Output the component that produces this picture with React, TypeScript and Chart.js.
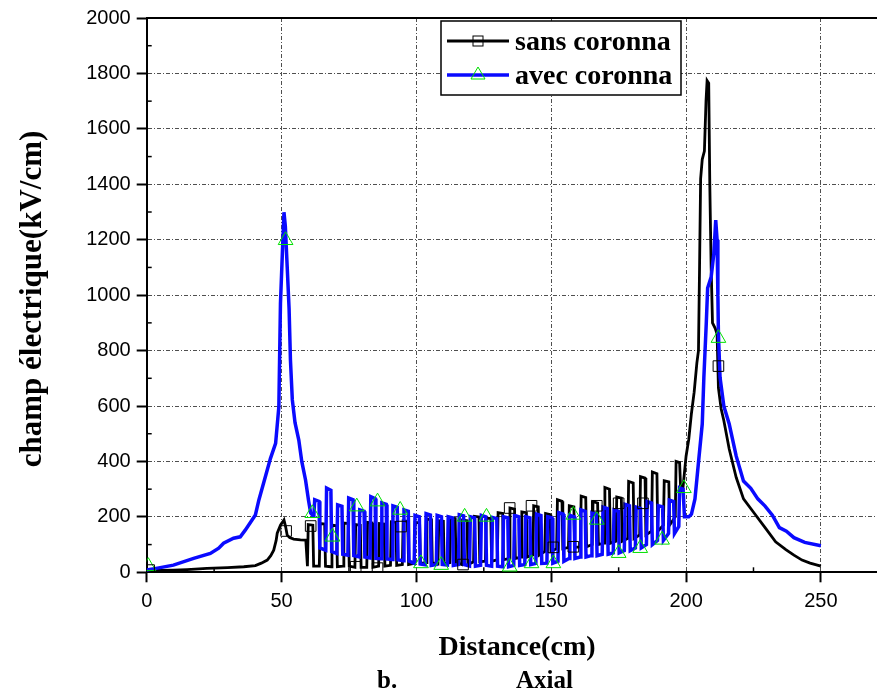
import React, { useEffect, useRef } from 'react';
import { Chart, registerables } from 'chart.js';

Chart.register(...registerables);

// ---------- data ----------
const xTicks = [0, 50, 100, 150, 200, 250];
const xMinorTicks = [25, 75, 125, 175, 225];
const yMinorTicks = [100, 300, 500, 700, 900, 1100, 1300, 1500, 1700, 1900];

const seriesLabels = ['sans coronna', 'avec coronna'];

// champ électrique, sans coronna (black)
const sansCoronna: [number, number][] = [
  [0, 6], [5, 7], [10, 8], [15, 10], [22.3, 14], [30, 17], [36, 20], [40.3, 24], [42.5, 33], [44.7, 44],
  [46, 60], [47.1, 80], [48, 115], [48.4, 141], [49.6, 170], [50.3, 180], [50.9, 189], [51.5, 165], [52.1, 134],
  [53, 125], [54.5, 120], [57, 117], [59, 116],
  [59.6, 22], [59.9, 172], [61.6, 170], [61.9, 22],
  [64.0, 22], [64.3, 176], [66.0, 174], [66.3, 22],
  [68.4, 20], [68.7, 170], [70.4, 168], [70.7, 20],
  [72.8, 22], [73.1, 178], [74.8, 176], [75.1, 22],
  [77.2, 18], [77.5, 172], [79.2, 170], [79.5, 18],
  [81.6, 18], [81.9, 180], [83.6, 178], [83.9, 18],
  [86.0, 22], [86.3, 176], [88.0, 174], [88.3, 22],
  [90.4, 25], [90.7, 182], [92.4, 180], [92.7, 25],
  [94.8, 28], [95.1, 186], [96.8, 184], [97.1, 28],
  [99.2, 32], [99.5, 180], [101.2, 178], [101.5, 32],
  [103.6, 35], [103.9, 192], [105.6, 190], [105.9, 35],
  [108.0, 30], [108.3, 186], [110.0, 184], [110.3, 30],
  [112.4, 35], [112.7, 196], [114.4, 194], [114.7, 35],
  [116.8, 28], [117.1, 188], [118.8, 186], [119.1, 28],
  [121.2, 38], [121.5, 202], [123.2, 200], [123.5, 38],
  [125.6, 40], [125.9, 196], [127.6, 194], [127.9, 40],
  [130.0, 45], [130.3, 215], [132.0, 212], [132.3, 45],
  [134.4, 50], [134.7, 232], [136.4, 228], [136.7, 50],
  [138.8, 55], [139.1, 218], [140.8, 215], [141.1, 55],
  [143.2, 62], [143.5, 240], [145.2, 236], [145.5, 62],
  [147.6, 75], [147.9, 212], [149.6, 208], [149.9, 75],
  [152.0, 85], [152.3, 262], [154.0, 256], [154.3, 85],
  [156.4, 90], [156.7, 240], [158.4, 236], [158.7, 90],
  [160.8, 92], [161.1, 275], [162.8, 270], [163.1, 92],
  [165.2, 100], [165.5, 255], [167.2, 250], [167.5, 100],
  [169.6, 105], [169.9, 306], [171.6, 300], [171.9, 105],
  [174.0, 112], [174.3, 272], [176.0, 268], [176.3, 112],
  [178.4, 122], [178.7, 328], [180.4, 322], [180.7, 122],
  [182.8, 135], [183.1, 345], [184.8, 340], [185.1, 135],
  [187.2, 148], [187.5, 362], [189.2, 356], [189.5, 148],
  [191.6, 170], [191.9, 330], [193.6, 326], [193.9, 170],
  [196.0, 200], [196.3, 400], [197.6, 396], [198.0, 300], [198.7, 290],
  [200, 419], [201, 480], [202, 574], [203, 650], [204, 755], [204.6, 800], [205, 1100], [205.4, 1420],
  [206, 1490], [206.8, 1520], [207.4, 1700], [207.8, 1774], [208.4, 1765], [208.8, 1400], [209.3, 1100],
  [209.8, 900], [210.8, 880], [211.5, 860], [212, 665], [213, 590], [214, 548], [216, 445], [218.6, 342],
  [221.3, 265], [225.3, 213], [229.3, 161], [233.2, 110], [237, 82], [240, 62], [243, 44], [246, 33], [250, 22],
];

// champ électrique, avec coronna (blue)
const avecCoronna: [number, number][] = [
  [0, 8], [4, 15], [9.9, 26], [17.4, 50], [23.6, 68], [26.7, 87], [28.5, 105], [32.2, 123], [34.7, 128],
  [36.6, 153], [40.3, 207], [41.6, 261], [44, 345], [45.9, 411], [47.8, 465], [49, 597], [49.6, 971],
  [50.3, 1150], [50.9, 1299], [51.4, 1250], [52.1, 1102], [52.8, 950], [53.3, 766], [54, 622], [55, 540],
  [56.4, 477], [57.5, 400], [58.9, 333], [60, 260], [60.8, 214], [61.6, 205],
  [62.0, 205], [62.3, 262], [63.9, 256], [64.2, 88],
  [66.4, 80], [66.7, 304], [68.3, 296], [68.6, 75],
  [70.5, 68], [70.8, 243], [72.4, 238], [72.7, 65],
  [74.6, 62], [74.9, 268], [76.5, 262], [76.8, 60],
  [78.7, 56], [79.0, 225], [80.6, 220], [80.9, 55],
  [82.8, 52], [83.1, 273], [84.7, 266], [85.0, 50],
  [86.9, 49], [87.2, 250], [88.8, 245], [89.1, 48],
  [91.0, 46], [91.3, 240], [92.9, 235], [93.2, 45],
  [95.1, 42], [95.4, 225], [97.0, 220], [97.3, 40],
  [99.2, 32], [99.5, 205], [101.1, 200], [101.4, 30],
  [103.3, 27], [103.6, 212], [105.2, 207], [105.5, 25],
  [107.4, 28], [107.7, 205], [109.3, 200], [109.6, 28],
  [111.5, 26], [111.8, 200], [113.4, 196], [113.7, 25],
  [115.6, 28], [115.9, 208], [117.5, 204], [117.8, 28],
  [119.7, 23], [120.0, 200], [121.6, 196], [121.9, 22],
  [123.8, 25], [124.1, 205], [125.7, 200], [126.0, 25],
  [127.9, 22], [128.2, 198], [129.8, 194], [130.1, 22],
  [132.0, 20], [132.3, 200], [133.9, 196], [134.2, 20],
  [136.1, 25], [136.4, 205], [138.0, 200], [138.3, 25],
  [140.2, 28], [140.5, 200], [142.1, 196], [142.4, 28],
  [144.3, 32], [144.6, 210], [146.2, 205], [146.5, 32],
  [148.4, 33], [148.7, 200], [150.3, 196], [150.6, 33],
  [152.5, 40], [152.8, 215], [154.4, 210], [154.7, 40],
  [156.6, 50], [156.9, 205], [158.5, 200], [158.8, 50],
  [160.7, 55], [161.0, 225], [162.6, 220], [162.9, 55],
  [164.8, 60], [165.1, 215], [166.7, 210], [167.0, 60],
  [168.9, 65], [169.2, 235], [170.8, 230], [171.1, 65],
  [173.0, 70], [173.3, 225], [174.9, 220], [175.2, 70],
  [177.1, 78], [177.4, 245], [179.0, 240], [179.3, 78],
  [181.2, 88], [181.5, 235], [183.1, 230], [183.4, 88],
  [185.3, 100], [185.6, 255], [187.2, 250], [187.5, 100],
  [189.4, 115], [189.7, 240], [191.3, 236], [191.6, 115],
  [193.5, 140], [193.8, 260], [195.4, 255], [195.7, 140],
  [197.3, 165], [197.6, 305], [198.9, 300], [199.4, 200],
  [201, 200], [202, 210], [203.3, 265], [204.7, 406], [206, 535], [206.6, 703], [207.5, 900], [208, 1026],
  [209.3, 1065], [210.3, 1150], [211, 1271], [211.5, 1200], [211.8, 1000], [212, 858], [212.6, 703],
  [214, 600], [216, 535], [218.6, 419], [221.3, 329], [224, 303], [226.6, 265], [229.3, 239], [232, 206],
  [234.6, 161], [237.2, 148], [240, 125], [244, 108], [250, 96],
];

// symbols drawn on the curves
const sansMarkers: [number, number][] = [
  [0.9, 8], [51.7, 149], [60.8, 167], [77.5, 20], [85.6, 15], [94.3, 165], [117.3, 28], [134.6, 232],
  [142.7, 240], [150.8, 90], [158.2, 92], [166.9, 240], [175, 249], [184, 249], [212, 744],
];
const avecMarkers: [number, number][] = [
  [0.6, 22], [51.5, 1198], [61.4, 213], [68.9, 128], [77.9, 237], [85.6, 255], [94, 225], [101.7, 32],
  [109.2, 26], [117.9, 200], [126, 200], [134.6, 20], [142.7, 32], [150.8, 32], [158.2, 207], [166.9, 189],
  [175, 69], [183, 87], [191.1, 117], [199.2, 303], [212, 845],
];

const xTitle = 'Distance(cm)';
const yTitle = 'champ électrique(kV/cm)';
const captionLetter = 'b.';
const captionWord = 'Axial';

// ---------- styles ----------
const BLACK = '#000000';
const BLUE = '#0a0aff';
const GREEN = '#00e000';
const SERIF = '"Liberation Serif", "Times New Roman", serif';
const SANS = '"Liberation Sans", Arial, sans-serif';

const toXY = (arr: [number, number][]) => arr.map(([x, y]) => ({ x, y }));

const decorPlugin = {
  id: 'decor',
  afterDraw(chart: any) {
    const { ctx, chartArea: ca, scales } = chart;
    const xs = scales.x;
    const ys = scales.y;
    const line = (x1: number, y1: number, x2: number, y2: number) => {
      ctx.beginPath();
      ctx.moveTo(x1, y1);
      ctx.lineTo(x2, y2);
      ctx.stroke();
    };
    ctx.save();
    ctx.setLineDash([]);
    ctx.strokeStyle = '#000';
    // minor inward ticks
    ctx.lineWidth = 1.5;
    xMinorTicks.forEach((v) => {
      const px = xs.getPixelForValue(v);
      line(px, ca.bottom, px, ca.bottom - 5);
    });
    yMinorTicks.forEach((v) => {
      const py = ys.getPixelForValue(v);
      line(ca.left, py, ca.left + 5, py);
    });
    // top frame
    ctx.lineWidth = 2;
    line(ca.left, ca.top, chart.width, ca.top);

    // legend
    const lx = 441, ly = 21, lw = 240, lh = 74;
    ctx.fillStyle = '#fff';
    ctx.fillRect(lx, ly, lw, lh);
    ctx.lineWidth = 1.5;
    ctx.strokeRect(lx, ly, lw, lh);
    const rows = [
      { y: 41, color: BLACK, width: 2.8, label: seriesLabels[0], marker: 'rect' },
      { y: 75, color: BLUE, width: 3.5, label: seriesLabels[1], marker: 'tri' },
    ];
    rows.forEach((r) => {
      ctx.strokeStyle = r.color;
      ctx.lineWidth = r.width;
      line(447, r.y, 509, r.y);
      ctx.lineWidth = 1;
      if (r.marker === 'rect') {
        ctx.strokeStyle = '#000';
        ctx.strokeRect(473, r.y - 5, 10, 10);
      } else {
        ctx.strokeStyle = GREEN;
        ctx.beginPath();
        ctx.moveTo(478, r.y - 8);
        ctx.lineTo(485, r.y + 4);
        ctx.lineTo(471, r.y + 4);
        ctx.closePath();
        ctx.stroke();
      }
      ctx.fillStyle = '#000';
      ctx.font = `bold 28px ${SERIF}`;
      ctx.textAlign = 'left';
      ctx.textBaseline = 'alphabetic';
      ctx.fillText(r.label, 515, r.y + 9);
    });

    // axis titles and caption
    ctx.fillStyle = '#000';
    ctx.font = `bold 28px ${SERIF}`;
    ctx.textAlign = 'center';
    ctx.textBaseline = 'alphabetic';
    ctx.fillText(xTitle, 517, 655);
    ctx.save();
    ctx.font = `bold 31px ${SERIF}`;
    ctx.translate(41, 299);
    ctx.rotate(-Math.PI / 2);
    ctx.fillText(yTitle, 0, 0);
    ctx.restore();
    ctx.font = `bold 25px ${SERIF}`;
    ctx.textAlign = 'left';
    ctx.fillText(captionLetter, 377, 688);
    ctx.fillText(captionWord, 516, 688);
    ctx.restore();
  },
};

export default function App() {
  const ref = useRef<HTMLCanvasElement | null>(null);
  useEffect(() => {
    if (!ref.current) return;
    const chart = new Chart(ref.current, {
      type: 'line',
      data: {
        datasets: [
          {
            label: seriesLabels[0] + ' symbols',
            data: toXY(sansMarkers),
            showLine: false,
            pointStyle: 'rect',
            pointRadius: 7.5,
            pointBorderColor: '#000',
            pointBackgroundColor: 'rgba(0,0,0,0)',
            pointBorderWidth: 1,
            order: -2,
          } as any,
          {
            label: seriesLabels[1] + ' symbols',
            data: toXY(avecMarkers),
            showLine: false,
            pointStyle: 'triangle',
            pointRadius: 8.5,
            pointBorderColor: GREEN,
            pointBackgroundColor: 'rgba(0,0,0,0)',
            pointBorderWidth: 1,
            order: -1,
          } as any,
          {
            label: seriesLabels[0],
            data: toXY(sansCoronna),
            borderColor: BLACK,
            borderWidth: 2.8,
            pointRadius: 0,
            tension: 0,
            order: 2,
          },
          {
            label: seriesLabels[1],
            data: toXY(avecCoronna),
            borderColor: BLUE,
            borderWidth: 3.5,
            pointRadius: 0,
            tension: 0,
            order: 1,
          },
        ],
      },
      options: {
        responsive: false,
        animation: false,
        events: [],
        layout: { autoPadding: false, padding: { top: 17.5, right: 0, left: 0, bottom: 0 } },
        plugins: { legend: { display: false }, tooltip: { enabled: false } },
        scales: {
          x: {
            type: 'linear',
            min: 0,
            max: 270.8,
            afterBuildTicks: (scale: any) => {
              scale.ticks = xTicks.map((v) => ({ value: v }));
            },
            afterFit: (scale: any) => {
              scale.height = 120.7;
            },
            ticks: {
              color: '#000',
              font: { family: SANS, size: 20 },
              padding: 7,
              maxRotation: 0,
              callback: (v: any) => String(v),
            },
            grid: {
              color: 'rgba(60,60,60,0.9)',
              lineWidth: 1,
              tickLength: 10,
              tickWidth: 2,
              tickColor: '#000',
            },
            border: { display: true, color: '#000', width: 2, dash: [4, 2, 1, 2] },
          },
          y: {
            type: 'linear',
            min: 0,
            max: 2000,
            afterFit: (scale: any) => {
              scale.width = 146.7;
            },
            ticks: {
              stepSize: 200,
              color: '#000',
              font: { family: SANS, size: 20 },
              padding: 6,
              callback: (v: any) => String(v),
            },
            grid: {
              color: 'rgba(60,60,60,0.9)',
              lineWidth: 1,
              tickLength: 10,
              tickWidth: 2,
              tickColor: '#000',
            },
            border: { display: true, color: '#000', width: 2, dash: [4, 2, 1, 2] },
          },
        },
      },
      plugins: [decorPlugin],
    } as any);
    return () => chart.destroy();
  }, []);

  return (
    <div style={{ position: 'absolute', left: 0, top: 0, width: 877, height: 693, background: '#fff' }}>
      <canvas ref={ref} width={877} height={693} style={{ display: 'block' }} />
    </div>
  );
}
